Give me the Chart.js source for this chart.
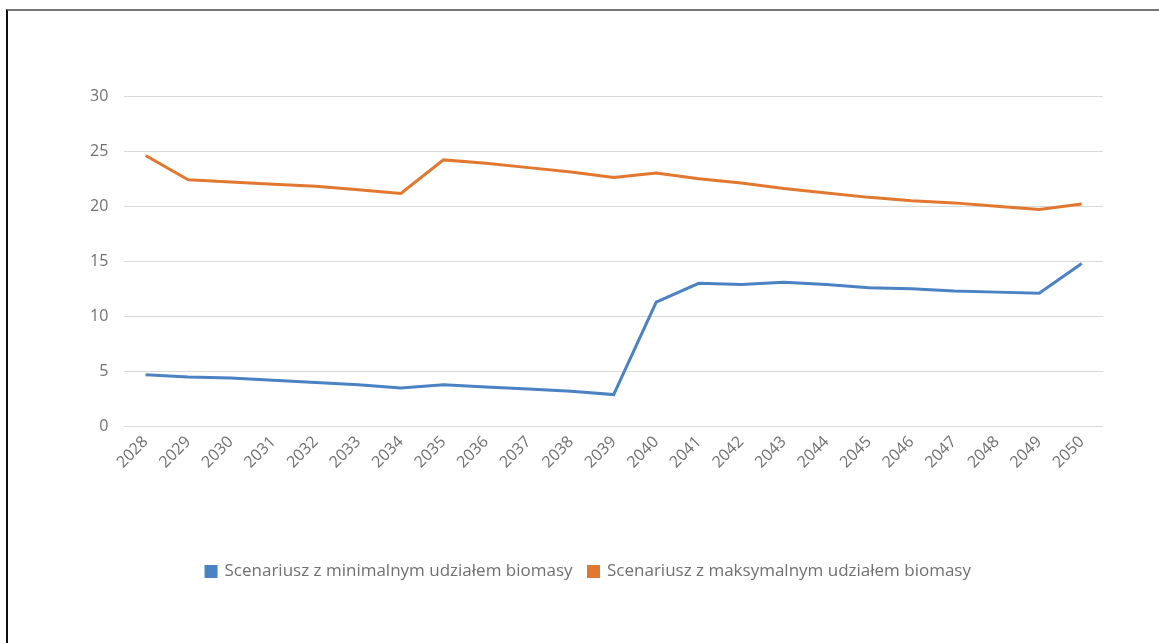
<!DOCTYPE html>
<html>
<head>
<meta charset="utf-8">
<script src="https://cdn.jsdelivr.net/npm/chart.js@4/dist/chart.umd.min.js"></script>
<style>
  html, body { margin: 0; padding: 0; background: #fff; }
  #wrap { position: absolute; left: 0; top: 0; width: 1159px; height: 643px; }
  #frame { position: absolute; left: 6px; top: 9px; right: 0; bottom: 0;
           border-left: 2px solid #111; border-top: 2px solid #777; pointer-events: none; }
</style>
</head>
<body>
<div id="wrap"><canvas id="chart"></canvas></div>
<div id="frame"></div>
<script>
var years = ['2028', '2029', '2030', '2031', '2032', '2033', '2034', '2035', '2036', '2037', '2038', '2039',
             '2040', '2041', '2042', '2043', '2044', '2045', '2046', '2047', '2048', '2049', '2050'];
var minBiomass = [4.7, 4.5, 4.4, 4.2, 4.0, 3.8, 3.5, 3.8, 3.6, 3.4, 3.2, 2.9,
                  11.3, 13.0, 12.9, 13.1, 12.9, 12.6, 12.5, 12.3, 12.2, 12.1, 14.8];
var maxBiomass = [24.6, 22.4, 22.2, 22.0, 21.8, 21.5, 21.15, 24.2, 23.9, 23.5, 23.1, 22.6,
                  23.0, 22.5, 22.1, 21.6, 21.2, 20.8, 20.5, 20.3, 20.0, 19.7, 20.2];
var seriesNames = ['Scenariusz z minimalnym udziałem biomasy', 'Scenariusz z maksymalnym udziałem biomasy'];

var ctx = document.getElementById('chart');
new Chart(ctx, {
  type: 'line',
  data: {
    labels: years,
    datasets: [{
      label: seriesNames[0],
      data: minBiomass,
      borderColor: '#4a82c3',
      backgroundColor: '#4a82c3',
      borderWidth: 3,
      pointRadius: 0,
      tension: 0,
      fill: false
    }, {
      label: seriesNames[1],
      data: maxBiomass,
      borderColor: '#e2772f',
      backgroundColor: '#e2772f',
      borderWidth: 3,
      pointRadius: 0,
      tension: 0,
      fill: false
    }]
  },
  options: {
    responsive: true,
    maintainAspectRatio: false,
    animation: false,
    layout: { padding: { left: 74, right: 56, top: 96, bottom: 53 } },
    scales: {
      x: {
        offset: true,
        grid: { display: false, drawTicks: false },
        border: { display: false },
        ticks: {
          minRotation: 45, maxRotation: 45, padding: 6,
          color: '#707070', font: { family: 'Open Sans', size: 16 }
        },
        afterFit: function (scale) { scale.height += 69; }
      },
      y: {
        min: 0, max: 30,
        grid: { color: '#d9d9d9', lineWidth: 1, drawTicks: false },
        border: { display: false },
        ticks: {
          stepSize: 5, padding: 16,
          color: '#707070', font: { family: 'Open Sans', size: 16 }
        }
      }
    },
    plugins: {
      tooltip: { enabled: false },
      legend: {
        position: 'bottom',
        labels: {
          boxWidth: 10, boxHeight: 10, padding: 16,
          color: '#707070', font: { family: 'Open Sans', size: 17 }
        }
      }
    }
  }
});
</script>
</body>
</html>
